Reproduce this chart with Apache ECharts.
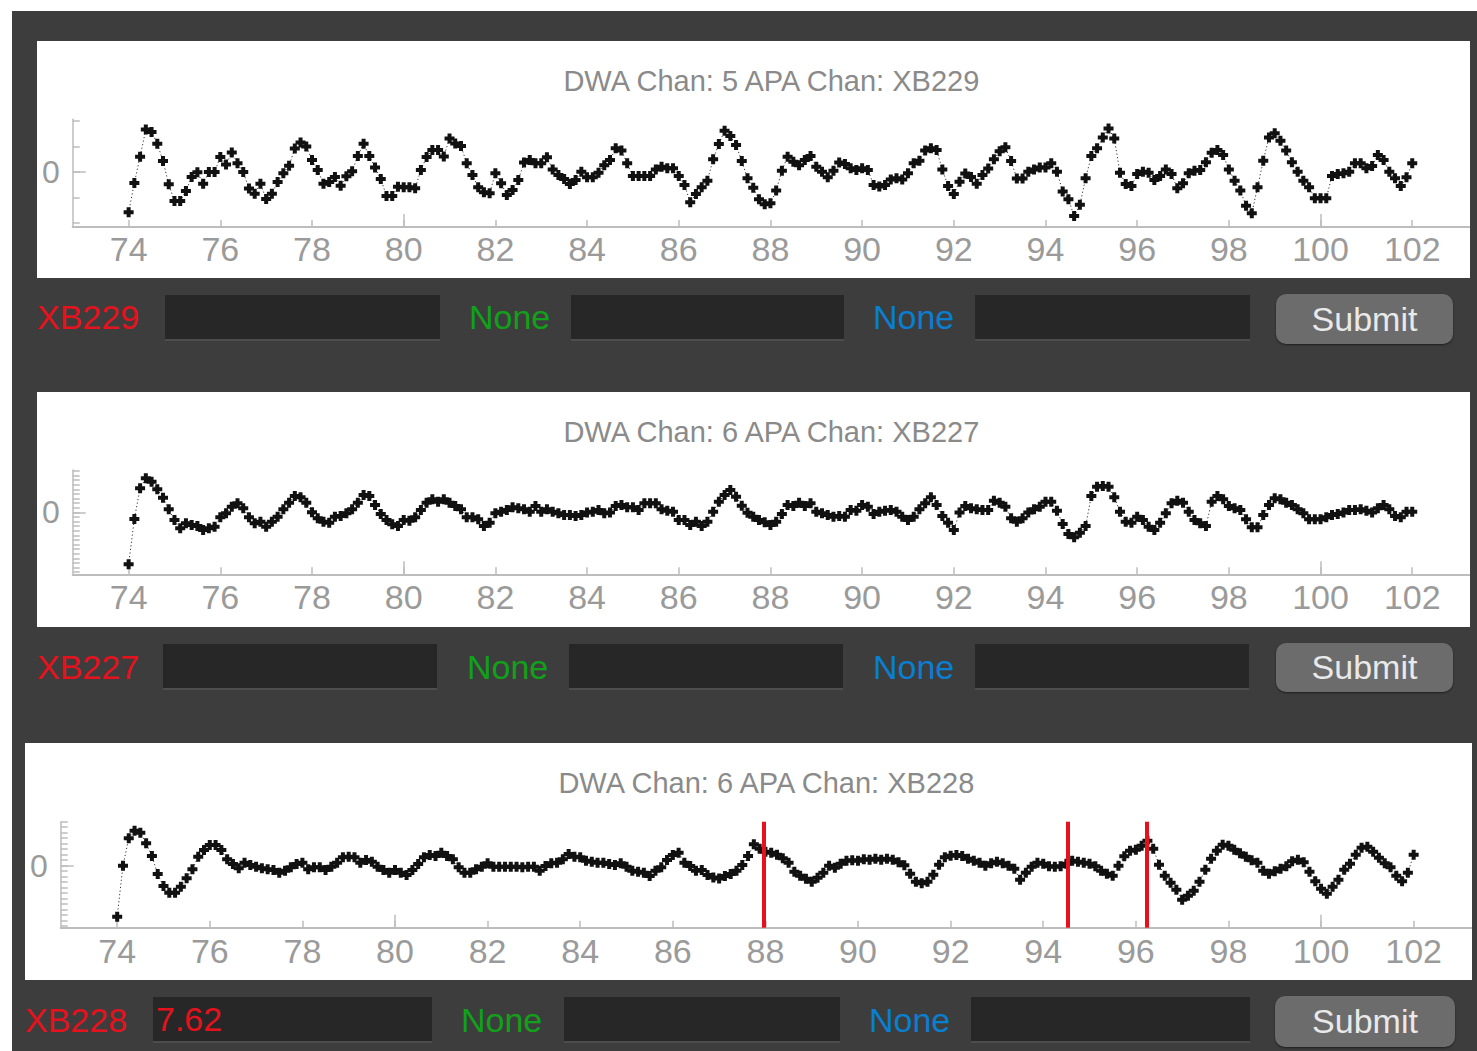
<!DOCTYPE html>
<html>
<head>
<meta charset="utf-8">
<title>DWA channels</title>
<script src="https://cdn.jsdelivr.net/npm/echarts@6/dist/echarts.min.js"></script>
<style>
  html, body { margin: 0; padding: 0; }
  body {
    width: 1477px; height: 1051px; position: relative; overflow: hidden;
    background: #fff; font-family: "Liberation Sans", Arial, sans-serif;
  }
  .app { position: absolute; left: 12px; top: 11px; width: 1465px; height: 1040px; background: #3d3d3d; }
  .panel { position: absolute; background: #fff; }
  .lbl { position: absolute; font-size: 34px; line-height: 34px; height: 34px; white-space: nowrap; }
  .red { color: #e5121d; }
  .green { color: #12a01a; }
  .blue { color: #0a7ecf; }
  .box {
    position: absolute; background: #272727; box-sizing: border-box;
    border-bottom: 2px solid #4d4d4d; font-size: 34px; line-height: 44px; padding-left: 3px;
  }
  .btn {
    position: absolute; background: #6c6c6c; border-radius: 10px; color: #e9e9e9;
    font-size: 34px; display: flex; align-items: center; justify-content: center;
    box-shadow: 0 1px 2px rgba(0,0,0,0.5);
  }
</style>
</head>
<body>
<div class="app"></div>

<div class="panel" id="c1" style="left:37px;top:41px;width:1433px;height:237px"></div>
<div class="panel" id="c2" style="left:37px;top:392px;width:1433px;height:235px"></div>
<div class="panel" id="c3" style="left:25px;top:743px;width:1447px;height:237px"></div>

<!-- row 1 -->
<div class="lbl red" style="left:37px;top:300px">XB229</div>
<div class="box" style="left:165px;top:295px;width:275px;height:46px"></div>
<div class="lbl green" style="left:469px;top:300px">None</div>
<div class="box" style="left:571px;top:295px;width:273px;height:46px"></div>
<div class="lbl blue" style="left:873px;top:300px">None</div>
<div class="box" style="left:975px;top:295px;width:275px;height:46px"></div>
<div class="btn" style="left:1276px;top:294px;width:177px;height:50px">Submit</div>

<!-- row 2 -->
<div class="lbl red" style="left:37px;top:650px">XB227</div>
<div class="box" style="left:163px;top:644px;width:274px;height:46px"></div>
<div class="lbl green" style="left:467px;top:650px">None</div>
<div class="box" style="left:569px;top:644px;width:274px;height:46px"></div>
<div class="lbl blue" style="left:873px;top:650px">None</div>
<div class="box" style="left:975px;top:644px;width:274px;height:46px"></div>
<div class="btn" style="left:1276px;top:643px;width:177px;height:49px">Submit</div>

<!-- row 3 -->
<div class="lbl red" style="left:25px;top:1003px">XB228</div>
<div class="box red" style="left:153px;top:997px;width:279px;height:46px">7.62</div>
<div class="lbl green" style="left:461px;top:1003px">None</div>
<div class="box" style="left:564px;top:997px;width:276px;height:46px"></div>
<div class="lbl blue" style="left:869px;top:1003px">None</div>
<div class="box" style="left:971px;top:997px;width:279px;height:46px"></div>
<div class="btn" style="left:1275px;top:996px;width:180px;height:51px">Submit</div>

<script>
  // sampling grid (distance), one sample every 0.125
  const xStart = 74
  const xStep = 0.125
  const xLabels = [74, 76, 78, 80, 82, 84, 86, 88, 90, 92, 94, 96, 98, 100, 102]
  const xMajor = [80, 100]
  const yLabels = [0]

  const titles = [
    'DWA Chan: 5 APA Chan: XB229',
    'DWA Chan: 6 APA Chan: XB227',
    'DWA Chan: 6 APA Chan: XB228'
  ]

  // XB229
  const values1 = [
    -1.58, -0.43, 0.6, 1.67, 1.57, 1.11, 0.43, -0.48, -1.14, -1.14, -0.75, -0.2, -0.01, -0.46, 0, 0,
    0.59, 0.29, 0.77, 0.34, 0, -0.65, -0.85, -0.46, -1.06, -0.85, -0.39, -0.05, 0.25, 0.92, 1.16, 1.0,
    0.47, 0.08, -0.46, -0.39, -0.2, -0.54, -0.17, 0.03, 0.63, 1.11, 0.63, 0.18, -0.27, -0.94, -0.94, -0.58,
    -0.6, -0.6, -0.64, 0.08, 0.59, 0.86, 0.86, 0.61, 1.32, 1.12, 1.02, 0.34, -0.12, -0.6, -0.8, -0.83,
    -0.05, -0.44, -0.9, -0.71, -0.31, 0.37, 0.47, 0.34, 0.34, 0.58, 0.1, -0.12, -0.27, -0.47, -0.31, 0.01,
    -0.21, -0.21, -0.03, 0.27, 0.47, 0.93, 0.84, 0.34, -0.16, -0.16, -0.16, -0.16, 0.1, 0.21, 0.15, 0.15,
    -0.16, -0.51, -1.19, -0.86, -0.6, -0.34, 0.5, 1.1, 1.62, 1.41, 1.06, 0.43, -0.25, -0.62, -1.07, -1.27,
    -1.23, -0.73, 0.05, 0.6, 0.4, 0.27, 0.47, 0.63, 0.21, 0.01, -0.21, 0.05, 0.37, 0.31, 0.15, 0.08,
    0.15, 0.08, -0.51, -0.57, -0.51, -0.29, -0.25, -0.29, -0.05, 0.34, 0.44, 0.84, 0.93, 0.86, 0.1, -0.55,
    -0.86, -0.38, -0.06, -0.2, -0.46, -0.12, 0.14, 0.5, 0.82, 0.97, 0.43, -0.26, -0.26, 0.01, 0.1, 0.18,
    0.18, 0.34, 0.01, -0.77, -1.07, -1.73, -1.29, -0.25, 0.63, 0.93, 1.36, 1.71, 1.32, -0.03, -0.47, -0.55,
    -0.08, 0.01, -0.03, -0.31, -0.16, 0.1, -0.08, -0.64, -0.44, -0.05, 0.05, 0.08, 0.38, 0.76, 0.86, 0.67,
    0.1, -0.34, -0.73, -1.33, -1.62, -0.6, 0.44, 1.36, 1.52, 1.23, 0.84, 0.38, 0.01, -0.34, -0.6, -1.03,
    -1.03, -1.03, -0.16, -0.08, -0.05, 0.01, 0.34, 0.34, 0.15, 0.24, 0.67, 0.47, 0.01, -0.25, -0.55, -0.21,
    0.34
  ]

  // XB227
  const values2 = [
    -52, -6.7, 24, 34, 30.6, 23, 14.6, 3, -7.7, -16, -11, -12.7, -13.7, -17.7, -16, -14.4,
    -5, -1, 5.6, 9, 4, -5, -11, -9.4, -14.4, -9.4, -4.4, 3, 9.6, 16.3, 15, 9.6,
    0, -6, -9.4, -10.4, -4.4, -3.7, -1, 3, 9.6, 17.3, 16.3, 7.3, -1.7, -7.7, -12, -13.7,
    -7.7, -8.4, -5, 2.3, 9.6, 13, 10.6, 13, 9.6, 6.3, 3, -5, -5, -7, -13.7, -10.4,
    -1, 0.6, 2.3, 5, 4, 3, 0.6, 6.3, 0.6, 3, 0.6, -1, -2.7, -2.7, -3.7, -2.7,
    -0.3, 0.6, 2.3, -1, -0.3, 6.3, 7.3, 5, 5, 2.3, 9, 9, 9, 3, 1.6, 0.6,
    -7.7, -7.7, -12.7, -9.4, -13.7, -9.4, 0.6, 10.6, 17.3, 22.3, 15.6, 6.5, -0.5, -4.4, -7.7, -10,
    -12.7, -9.4, -1.7, 7.3, 6.3, 9.6, 6.3, 9, 0.6, -1, -2.7, -4.4, -3.7, -4.4, 2.3, 1.6,
    7.3, 5.6, -1.7, 0.6, 1.6, 2.3, 0.6, -4.4, -7.7, -4.4, 3, 9, 15, 7.3, -3.7, -10.4,
    -17.7, -0.3, 6.3, 4, 3, 2.3, 2.3, 11.6, 9.6, 5.6, -6, -9.4, -6, -0.3, 3, 5.6,
    10.6, 10.6, 1.6, -11.7, -21.7, -25, -20.4, -13.7, 16.3, 25.6, 26.3, 25.6, 15, 0.6, -9.4, -10.4,
    -4.4, -7.7, -14.4, -17.7, -10.4, -1, 9, 11.6, 9.6, 0.6, -7.7, -11, -13.7, 10.6, 16.3, 13,
    6.3, 4, 2.3, -7, -15, -15, -2.7, 7.3, 14, 13, 9.6, 7.3, 3, -1, -7, -7,
    -7, -5, -2.7, -1.7, -0.3, 2.3, 2.3, 3, 1.6, -0.3, 4, 7.3, 3, -3.7, -5, 0.6,
    0.6
  ]

  // XB228
  const values3 = [
    -51, 0, 27.4, 35, 33, 22.4, 9.7, -8.3, -20.3, -27, -27, -21, -12.6, -3.6, 9, 15.7,
    20.7, 20.7, 15.7, 6.4, 1.7, -2.6, 3, 0.7, -1, -2.6, -3.6, -4.3, -7, -5, -1.6, 1.7,
    3, -3.6, -1.6, -1.6, -4.3, -1, 3, 8.4, 9, 8.4, 3, 5.7, 4, -1, -4.3, -7,
    -4.3, -7, -9.3, -4.3, 1.7, 8.4, 10.7, 9.7, 13, 9.7, 6.4, -1.6, -7, -7, -3.6, -1,
    2.4, -1, -1, -1, -1, -1, -1.6, -1, -1, -5, -0.3, 2.4, 3, 6.4, 11.7, 9,
    8.4, 5, 4, 3, 3, 1.7, 0.7, 2.4, -1, -5, -6, -7, -10.3, -5, -1.6, 5.7,
    10.7, 13, 3, -0.3, -5, -4.3, -9.3, -11.7, -12.7, -10.3, -8.3, -5, 0.7, 9.7, 21.5, 17,
    14, 13, 11, 7.5, 3, -6, -10, -13, -16, -12, -7, 0, -2, 2, 5, 5.5,
    5, 6.5, 6, 7, 6, 7, 6, 3.5, 0.5, -8, -16, -17.5, -16, -9, 1, 8.5,
    10, 10.7, 9.7, 7, 5, 3, 0, 2.5, 4, 2.5, 0, -3, -14, -7, -1, 3,
    2, -0.5, -1, -0.5, 2, 5, 4, 3, 2, -0.5, -5, -8, -10, 0, 9.5, 15,
    16, 20, 25, 17, 1, -10, -17, -24, -34, -30, -25, -16, -4, 7, 15, 21,
    20, 16, 12.5, 9, 5.5, 3, -5, -8, -5.5, -3, -0.5, 4.5, 6, 3.5, -6, -15.5,
    -23, -28, -21, -14, -4, 2, 11, 18, 19, 14, 8, 2.5, -1.5, -10, -15.5, -7,
    11
  ]

  // marked wire positions on XB228
  const marks3 = [87.97, 94.53, 96.24]

  const plus = 'path://M3,0H7V3H10V7H7V10H3V7H0V3H3Z'
  const axisColor = '#bdbdbd'
  const labelColor = '#9a9a9a'

  function ticksBetween(min, max, step) {
    const out = []
    for (let k = Math.ceil(min / step); k * step <= max; k++) out.push(+(k * step).toFixed(3))
    return out
  }

  function buildChart(id, cfg) {
    const el = document.getElementById(id)
    const chart = echarts.init(el, null, { renderer: 'svg' })
    const w = el.clientWidth
    const g = cfg.grid
    const points = cfg.values.map((v, i) => [xStart + i * xStep, v])
    const xMin = 72.78
    const xMax = 103.26

    const baseX = {
      type: 'value', min: xMin, max: xMax, position: 'bottom',
      axisLine: { show: true, onZero: false, lineStyle: { color: axisColor, width: 2 } },
      splitLine: { show: false }
    }
    const baseY = {
      type: 'value', min: cfg.yMin, max: cfg.yMax, position: 'left',
      axisLine: { show: true, onZero: false, lineStyle: { color: axisColor, width: 1.5 } },
      splitLine: { show: false }
    }

    const series = [{
      type: 'line',
      data: points,
      symbol: plus,
      symbolSize: 10,
      showSymbol: true,
      showAllSymbol: true,
      silent: true,
      itemStyle: { color: '#111' },
      lineStyle: { color: '#333', width: 1, type: [1.2, 2.4] }
    }]
    if (cfg.marks) {
      series[0].markLine = {
        silent: true,
        symbol: 'none',
        label: { show: false },
        lineStyle: { color: '#e8101c', width: 4, type: 'solid' },
        data: cfg.marks.map(x => ({ xAxis: x }))
      }
    }

    chart.setOption({
      animation: false,
      grid: { left: g.left, right: g.right, top: g.top, bottom: g.bottom, outerBoundsMode: 'none' },
      graphic: [{
        type: 'text',
        x: g.left + (w - g.left - g.right) / 2,
        y: 40,
        style: {
          text: cfg.title, fill: '#8a8a8a', fontSize: 29,
          fontFamily: 'Liberation Sans', align: 'center', verticalAlign: 'middle'
        }
      }],
      xAxis: [
        Object.assign({}, baseX, {
          axisTick: { show: true, inside: true, length: 7, customValues: xLabels, lineStyle: { color: axisColor, width: 1.5 } },
          axisLabel: { show: true, customValues: xLabels, margin: cfg.xMargin, color: labelColor, fontSize: 34, fontFamily: 'Liberation Sans' }
        }),
        Object.assign({}, baseX, {
          axisLine: { show: false, onZero: false },
          axisTick: { show: true, inside: true, length: 13, customValues: xMajor, lineStyle: { color: axisColor, width: 1.5 } },
          axisLabel: { show: false }
        })
      ],
      yAxis: [
        Object.assign({}, baseY, {
          axisTick: { show: true, inside: true, length: 7, customValues: cfg.yTicks, lineStyle: { color: axisColor, width: 1.5 } },
          axisLabel: { show: true, customValues: yLabels, margin: 13, color: labelColor, fontSize: 32, fontFamily: 'Liberation Sans' }
        }),
        Object.assign({}, baseY, {
          axisLine: { show: false, onZero: false },
          axisTick: { show: true, inside: true, length: 13, customValues: yLabels, lineStyle: { color: axisColor, width: 1.5 } },
          axisLabel: { show: false }
        })
      ],
      series: series
    })
    return chart
  }

  buildChart('c1', {
    title: titles[0], values: values1,
    yMin: -2.16, yMax: 2.07, yTicks: [-2, -1, 0, 1, 2],
    grid: { left: 35.7, right: 0, top: 78.3, bottom: 51 }, xMargin: 5
  })
  buildChart('c2', {
    title: titles[1], values: values2,
    yMin: -62, yMax: 42.3, yTicks: ticksBetween(-62, 42.3, 4.6),
    grid: { left: 35.7, right: 0, top: 78, bottom: 52.7 }, xMargin: 6
  })
  buildChart('c3', {
    title: titles[2], values: values3, marks: marks3,
    yMin: -62, yMax: 44, yTicks: ticksBetween(-62, 44, 5.5),
    grid: { left: 35.7, right: 0, top: 78.7, bottom: 52.3 }, xMargin: 6
  })
</script>
</body>
</html>
